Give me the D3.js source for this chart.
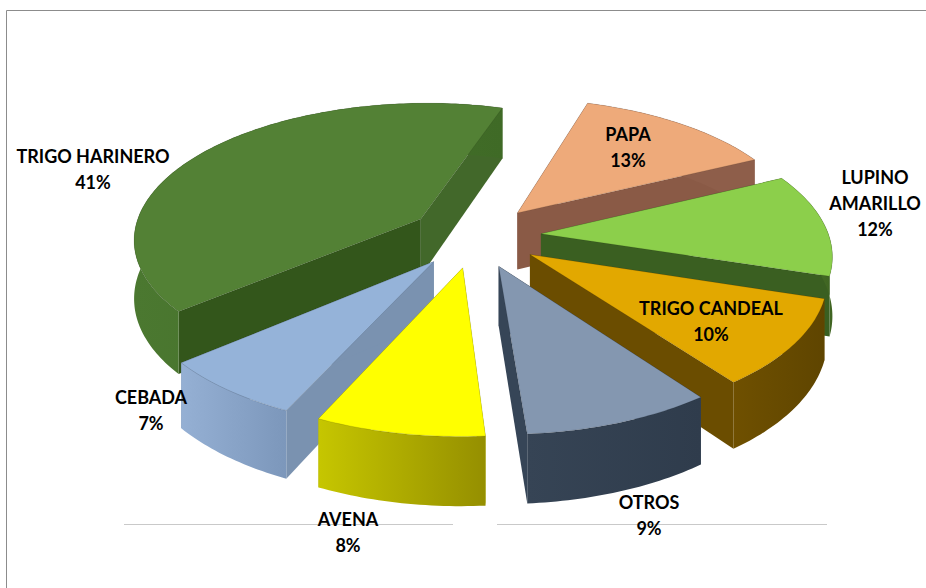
<!DOCTYPE html>
<html><head><meta charset="utf-8">
<script src="https://cdn.jsdelivr.net/npm/d3@7/dist/d3.min.js"></script>
<style>html,body{margin:0;background:#fff}svg{display:block}text{font-family:Lato,"Open Sans",sans-serif;font-weight:700;font-size:18px;fill:#000}</style>
</head><body><svg id="c" width="926" height="588"></svg>
<script>
const categories = ["PAPA","LUPINO AMARILLO","TRIGO CANDEAL","OTROS","AVENA","CEBADA","TRIGO HARINERO"];
const values = [13,12,10,9,8,7,41];
const labelLines = [["PAPA"],["LUPINO","AMARILLO"],["TRIGO CANDEAL"],["OTROS"],["AVENA"],["CEBADA"],["TRIGO HARINERO"]];
const topColors = ["#eeaa7a","#8ccf4b","#e2a800","#8497b0","#ffff00","#95b3d9","#538135"];
const wallColors = [["#8e5e4a","#8e5e4a"],["#4f7a2a","#3f6422"],["#6f5000","#5f4500"],["#364455","#2f3c4c"],["#c6c600","#958f00"],["#95b0d4","#7c97bb"],["#4b7830","#3f6a26"]];
const cutColors = [["#8a5a46","#8a5a46"],["#3a5f21","#3a5f21"],["#6b4d00","#6b4d00"],["#364557","#364557"],["#b0b000","#b0b000"],["#7a92b0","#7a92b0"],["#42682a","#33561b"]];
const drawOrder = [6,0,1,2,5,3,4];
const labelPos = [[628,141],[875,184],[711,315],[649,509],[348,526],[151,404],[93,163]];

const svg = d3.select("#c");
const firstAngle = 17.5*Math.PI/180, explode = .23, cx = 475, cy = 236, R = 288, Ry = 136, persp = .137, H = 58;
const pie = d3.pie().sort(null).startAngle(firstAngle).endAngle(firstAngle+2*Math.PI);
const arcs = pie(values);

function project(u,v,z){
  const s = 1/(1-persp*v);
  return [cx + R*u*s, cy + Ry*v*s + z*H*s];
}
const line = d3.line();
const defs = svg.append("defs");

svg.append("path").attr("d","M6.5 588V10.5H926").attr("fill","none").attr("stroke","#8c8c8c").attr("stroke-width",1);
[[124,453],[497,827]].forEach(d=>svg.append("line").attr("x1",d[0]).attr("x2",d[1]).attr("y1",524.5).attr("y2",524.5).attr("stroke","#c9c9c9").attr("stroke-width",1));

drawOrder.forEach(i=>{
  const a = arcs[i], mid = (a.startAngle+a.endAngle)/2;
  const ox = explode*Math.sin(mid), oy = -explode*Math.cos(mid);
  const n = Math.ceil((a.endAngle-a.startAngle)/(Math.PI/180));
  const ts = d3.range(n+1).map(k=>a.startAngle+(a.endAngle-a.startAngle)*k/n);
  const pt = (t,z)=>project(ox+Math.sin(t),oy-Math.cos(t),z);
  const apex = z=>project(ox,oy,z);
  const g = svg.append("g");
  const wall = (t,color)=>g.append("path").attr("d",line([apex(0),pt(t,0),pt(t,1),apex(1)])+"Z").attr("fill",color);
  wall(a.startAngle,cutColors[i][1]);
  wall(a.endAngle,cutColors[i][0]);
  const top = ts.map(t=>pt(t,0)), bot = ts.map(t=>pt(t,1)).reverse();
  const xs = top.map(d=>d[0]);
  const gid = "w"+i;
  const gr = defs.append("linearGradient").attr("id",gid).attr("gradientUnits","userSpaceOnUse")
    .attr("x1",d3.min(xs)).attr("x2",d3.max(xs)).attr("y1",0).attr("y2",0);
  gr.append("stop").attr("offset",0).attr("stop-color",wallColors[i][0]);
  gr.append("stop").attr("offset",1).attr("stop-color",wallColors[i][1]);
  g.append("path").attr("d",line(top.concat(bot))+"Z").attr("fill",`url(#${gid})`);
  g.append("path").attr("d",line([apex(0)].concat(top))+"Z").attr("fill",topColors[i])
    .attr("stroke","#000").attr("stroke-opacity",.2).attr("stroke-width",.6);
});

arcs.forEach((a,i)=>{
  const lines = labelLines[i].concat([values[i]+"%"]);
  const p = labelPos[i];
  const t = svg.append("text").attr("text-anchor","middle").attr("x",p[0]).attr("y",p[1]);
  lines.forEach((s,k)=>t.append("tspan").attr("x",p[0]).attr("dy",k?26:0).text(s));
});
</script></body></html>
